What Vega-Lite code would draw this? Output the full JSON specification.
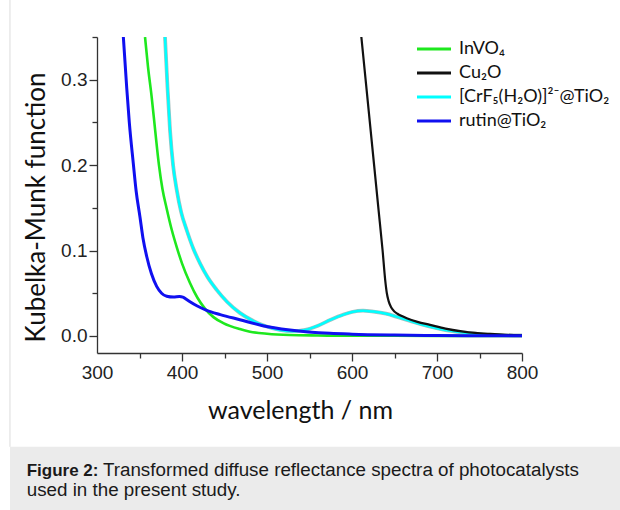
{
  "$schema": "https://vega.github.io/schema/vega-lite/v6.json",
  "width": 425,
  "height": 316,
  "autosize": {"type": "none"},
  "padding": {"left": 97, "top": 37, "right": 98, "bottom": 157},
  "background": "white",
  "config": {"view": {"stroke": null}},
  "datasets": {
    "spectra": [
      {"sample": "InVO₄", "wl": 356.5, "km": 0.35},
      {"sample": "InVO₄", "wl": 360, "km": 0.315},
      {"sample": "InVO₄", "wl": 364.3, "km": 0.28},
      {"sample": "InVO₄", "wl": 368.5, "km": 0.24},
      {"sample": "InVO₄", "wl": 372.9, "km": 0.2},
      {"sample": "InVO₄", "wl": 377, "km": 0.172},
      {"sample": "InVO₄", "wl": 382, "km": 0.149},
      {"sample": "InVO₄", "wl": 388, "km": 0.124},
      {"sample": "InVO₄", "wl": 393.8, "km": 0.104},
      {"sample": "InVO₄", "wl": 400, "km": 0.085},
      {"sample": "InVO₄", "wl": 409.4, "km": 0.062},
      {"sample": "InVO₄", "wl": 418, "km": 0.045},
      {"sample": "InVO₄", "wl": 427, "km": 0.032},
      {"sample": "InVO₄", "wl": 437, "km": 0.022},
      {"sample": "InVO₄", "wl": 448.6, "km": 0.015},
      {"sample": "InVO₄", "wl": 468, "km": 0.008},
      {"sample": "InVO₄", "wl": 480, "km": 0.005},
      {"sample": "InVO₄", "wl": 500, "km": 0.0025},
      {"sample": "InVO₄", "wl": 527, "km": 0.001},
      {"sample": "InVO₄", "wl": 560, "km": 0.0005},
      {"sample": "InVO₄", "wl": 600, "km": 0.0002},
      {"sample": "InVO₄", "wl": 700, "km": 0.0001},
      {"sample": "InVO₄", "wl": 800, "km": 0},
      {"sample": "Cu₂O", "wl": 611, "km": 0.35},
      {"sample": "Cu₂O", "wl": 621, "km": 0.25},
      {"sample": "Cu₂O", "wl": 631, "km": 0.15},
      {"sample": "Cu₂O", "wl": 636, "km": 0.1},
      {"sample": "Cu₂O", "wl": 639, "km": 0.066},
      {"sample": "Cu₂O", "wl": 641, "km": 0.05},
      {"sample": "Cu₂O", "wl": 643, "km": 0.041},
      {"sample": "Cu₂O", "wl": 646, "km": 0.0335},
      {"sample": "Cu₂O", "wl": 649.5, "km": 0.029},
      {"sample": "Cu₂O", "wl": 653.5, "km": 0.026},
      {"sample": "Cu₂O", "wl": 658, "km": 0.0235},
      {"sample": "Cu₂O", "wl": 664.4, "km": 0.0207},
      {"sample": "Cu₂O", "wl": 677, "km": 0.0165},
      {"sample": "Cu₂O", "wl": 691.8, "km": 0.0129},
      {"sample": "Cu₂O", "wl": 710, "km": 0.0085},
      {"sample": "Cu₂O", "wl": 731, "km": 0.005},
      {"sample": "Cu₂O", "wl": 745, "km": 0.0035},
      {"sample": "Cu₂O", "wl": 762, "km": 0.0023},
      {"sample": "Cu₂O", "wl": 780, "km": 0.0013},
      {"sample": "Cu₂O", "wl": 800, "km": 0.0008},
      {"sample": "[CrF₅(H₂O)]²⁻@TiO₂", "wl": 380, "km": 0.35},
      {"sample": "[CrF₅(H₂O)]²⁻@TiO₂", "wl": 383, "km": 0.29},
      {"sample": "[CrF₅(H₂O)]²⁻@TiO₂", "wl": 385.9, "km": 0.241},
      {"sample": "[CrF₅(H₂O)]²⁻@TiO₂", "wl": 389.5, "km": 0.2},
      {"sample": "[CrF₅(H₂O)]²⁻@TiO₂", "wl": 393.8, "km": 0.171},
      {"sample": "[CrF₅(H₂O)]²⁻@TiO₂", "wl": 399, "km": 0.145},
      {"sample": "[CrF₅(H₂O)]²⁻@TiO₂", "wl": 405.5, "km": 0.124},
      {"sample": "[CrF₅(H₂O)]²⁻@TiO₂", "wl": 413, "km": 0.103},
      {"sample": "[CrF₅(H₂O)]²⁻@TiO₂", "wl": 421.2, "km": 0.085},
      {"sample": "[CrF₅(H₂O)]²⁻@TiO₂", "wl": 430, "km": 0.069},
      {"sample": "[CrF₅(H₂O)]²⁻@TiO₂", "wl": 440.8, "km": 0.054},
      {"sample": "[CrF₅(H₂O)]²⁻@TiO₂", "wl": 453, "km": 0.04},
      {"sample": "[CrF₅(H₂O)]²⁻@TiO₂", "wl": 468, "km": 0.027},
      {"sample": "[CrF₅(H₂O)]²⁻@TiO₂", "wl": 483, "km": 0.018},
      {"sample": "[CrF₅(H₂O)]²⁻@TiO₂", "wl": 499.6, "km": 0.011},
      {"sample": "[CrF₅(H₂O)]²⁻@TiO₂", "wl": 515, "km": 0.007},
      {"sample": "[CrF₅(H₂O)]²⁻@TiO₂", "wl": 530, "km": 0.0055},
      {"sample": "[CrF₅(H₂O)]²⁻@TiO₂", "wl": 545, "km": 0.007},
      {"sample": "[CrF₅(H₂O)]²⁻@TiO₂", "wl": 560, "km": 0.012},
      {"sample": "[CrF₅(H₂O)]²⁻@TiO₂", "wl": 575, "km": 0.019},
      {"sample": "[CrF₅(H₂O)]²⁻@TiO₂", "wl": 590, "km": 0.025},
      {"sample": "[CrF₅(H₂O)]²⁻@TiO₂", "wl": 600, "km": 0.028},
      {"sample": "[CrF₅(H₂O)]²⁻@TiO₂", "wl": 613, "km": 0.0296},
      {"sample": "[CrF₅(H₂O)]²⁻@TiO₂", "wl": 625, "km": 0.0285},
      {"sample": "[CrF₅(H₂O)]²⁻@TiO₂", "wl": 640, "km": 0.026},
      {"sample": "[CrF₅(H₂O)]²⁻@TiO₂", "wl": 652, "km": 0.0226},
      {"sample": "[CrF₅(H₂O)]²⁻@TiO₂", "wl": 670, "km": 0.017},
      {"sample": "[CrF₅(H₂O)]²⁻@TiO₂", "wl": 691, "km": 0.011},
      {"sample": "[CrF₅(H₂O)]²⁻@TiO₂", "wl": 710, "km": 0.0068},
      {"sample": "[CrF₅(H₂O)]²⁻@TiO₂", "wl": 731, "km": 0.004},
      {"sample": "[CrF₅(H₂O)]²⁻@TiO₂", "wl": 750, "km": 0.0022},
      {"sample": "[CrF₅(H₂O)]²⁻@TiO₂", "wl": 770, "km": 0.0012},
      {"sample": "[CrF₅(H₂O)]²⁻@TiO₂", "wl": 800, "km": 0.0005},
      {"sample": "rutin@TiO₂", "wl": 331, "km": 0.35},
      {"sample": "rutin@TiO₂", "wl": 335, "km": 0.29},
      {"sample": "rutin@TiO₂", "wl": 338, "km": 0.25},
      {"sample": "rutin@TiO₂", "wl": 342.7, "km": 0.202},
      {"sample": "rutin@TiO₂", "wl": 346, "km": 0.17},
      {"sample": "rutin@TiO₂", "wl": 350.6, "km": 0.139},
      {"sample": "rutin@TiO₂", "wl": 354, "km": 0.115},
      {"sample": "rutin@TiO₂", "wl": 358.5, "km": 0.093},
      {"sample": "rutin@TiO₂", "wl": 364, "km": 0.073},
      {"sample": "rutin@TiO₂", "wl": 370.2, "km": 0.058},
      {"sample": "rutin@TiO₂", "wl": 376, "km": 0.05},
      {"sample": "rutin@TiO₂", "wl": 382, "km": 0.0465},
      {"sample": "rutin@TiO₂", "wl": 390, "km": 0.0455},
      {"sample": "rutin@TiO₂", "wl": 397, "km": 0.0462},
      {"sample": "rutin@TiO₂", "wl": 401, "km": 0.0455},
      {"sample": "rutin@TiO₂", "wl": 405, "km": 0.043},
      {"sample": "rutin@TiO₂", "wl": 409.4, "km": 0.04},
      {"sample": "rutin@TiO₂", "wl": 418, "km": 0.035},
      {"sample": "rutin@TiO₂", "wl": 429, "km": 0.03},
      {"sample": "rutin@TiO₂", "wl": 445, "km": 0.025},
      {"sample": "rutin@TiO₂", "wl": 468, "km": 0.019},
      {"sample": "rutin@TiO₂", "wl": 495, "km": 0.012},
      {"sample": "rutin@TiO₂", "wl": 527, "km": 0.007},
      {"sample": "rutin@TiO₂", "wl": 574, "km": 0.003},
      {"sample": "rutin@TiO₂", "wl": 600, "km": 0.002},
      {"sample": "rutin@TiO₂", "wl": 650, "km": 0.001},
      {"sample": "rutin@TiO₂", "wl": 700, "km": 0.0005},
      {"sample": "rutin@TiO₂", "wl": 800, "km": 0.0002}
    ]
  },
  "data": {"name": "spectra"},
  "layer": [
    {
      "transform": [{"filter": "datum.sample === 'InVO₄'"}],
      "mark": {"type": "line", "strokeWidth": 2.6, "interpolate": "monotone", "clip": true},
      "encoding": {
        "x": {
          "field": "wl", "type": "quantitative",
          "scale": {"domain": [300, 800], "nice": false, "zero": false},
          "axis": {
            "title": "wavelength / nm",
            "values": [300, 350, 400, 450, 500, 550, 600, 650, 700, 750, 800],
            "labelExpr": "datum.value % 100 == 0 ? datum.label : ''",
            "tickSize": {"condition": {"test": "datum.value % 100 != 0", "value": 5}, "value": 8},
            "tickOpacity": {"condition": {"test": "datum.value == 300", "value": 0}, "value": 1},
            "labelFont": "Liberation Sans", "labelFontSize": 19, "labelColor": "#222222",
            "labelPadding": 2,
            "labelFlush": false, "labelOverlap": false,
            "domainColor": "#333333", "tickColor": "#333333", "domainWidth": 1.3, "tickWidth": 1.3,
            "grid": false,
            "titleFont": "Lato", "titleFontSize": 25, "titleFontWeight": "normal", "titleColor": "#111111",
            "titleX": 203, "titleY": 57, "titleBaseline": "middle", "titleAlign": "center"
          }
        },
        "y": {
          "field": "km", "type": "quantitative",
          "scale": {"domain": [-0.02, 0.35], "nice": false, "zero": false},
          "axis": {
            "title": "Kubelka-Munk function",
            "values": [0, 0.05, 0.1, 0.15, 0.2, 0.25, 0.3, 0.35],
            "labelExpr": "round(datum.value * 100) % 10 == 0 ? format(datum.value, '.1f') : ''",
            "tickSize": {"condition": {"test": "round(datum.value * 100) % 10 != 0", "value": 5}, "value": 8},
            "labelFont": "Liberation Sans", "labelFontSize": 19, "labelColor": "#222222",
            "labelPadding": 2,
            "labelFlush": false, "labelOverlap": false,
            "domainColor": "#333333", "tickColor": "#333333", "domainWidth": 1.3, "tickWidth": 1.3,
            "grid": false,
            "titleFont": "Lato", "titleFontSize": 26, "titleFontWeight": "normal", "titleColor": "#111111",
            "titleX": -61, "titleY": 170, "titleBaseline": "middle", "titleAlign": "center", "titleAngle": -90
          }
        },
        "color": {
          "field": "sample", "type": "nominal",
          "scale": {
            "domain": ["InVO₄", "Cu₂O", "[CrF₅(H₂O)]²⁻@TiO₂", "rutin@TiO₂"],
            "range": ["#1ee81e", "#111111", "#00ffff", "#1010f0"]
          },
          "legend": {
            "title": null,
            "orient": "none", "legendX": 327, "legendY": 2,
            "symbolType": "M-2,0H2", "symbolSize": 289, "symbolStrokeWidth": 3,
            "labelFont": "Lato", "labelFontSize": 18, "labelColor": "#111111",
            "labelOffset": 15, "rowPadding": 5, "padding": 0
          }
        }
      }
    },
    {
      "transform": [{"filter": "datum.sample === '[CrF₅(H₂O)]²⁻@TiO₂'"}],
      "mark": {"type": "line", "strokeWidth": 3.8, "interpolate": "monotone", "clip": true, "stroke": "#8fb0b0", "opacity": 0.8},
      "encoding": {
        "x": {"field": "wl", "type": "quantitative"},
        "y": {"field": "km", "type": "quantitative"}
      }
    },
    {
      "transform": [{"filter": "datum.sample === '[CrF₅(H₂O)]²⁻@TiO₂'"}],
      "mark": {"type": "line", "strokeWidth": 2.5, "interpolate": "monotone", "clip": true},
      "encoding": {
        "x": {"field": "wl", "type": "quantitative"},
        "y": {"field": "km", "type": "quantitative"},
        "color": {"field": "sample", "type": "nominal"}
      }
    },
    {
      "transform": [{"filter": "datum.sample === 'Cu₂O'"}],
      "mark": {"type": "line", "strokeWidth": 2.2, "interpolate": "monotone", "clip": true},
      "encoding": {
        "x": {"field": "wl", "type": "quantitative"},
        "y": {"field": "km", "type": "quantitative"},
        "color": {"field": "sample", "type": "nominal"}
      }
    },
    {
      "transform": [{"filter": "datum.sample === 'rutin@TiO₂'"}],
      "mark": {"type": "line", "strokeWidth": 3, "interpolate": "monotone", "clip": true},
      "encoding": {
        "x": {"field": "wl", "type": "quantitative"},
        "y": {"field": "km", "type": "quantitative"},
        "color": {"field": "sample", "type": "nominal"}
      }
    },
    {
      "data": {"values": [{"part": "caption"}]},
      "mark": {"type": "rect", "fill": "#ebebeb"},
      "encoding": {
        "x": {"datum": 197.6, "type": "quantitative"},
        "x2": {"datum": 915.3},
        "y": {"datum": -0.1298, "type": "quantitative"},
        "y2": {"datum": -0.25}
      }
    },
    {
      "data": {"values": [{"part": "border"}]},
      "mark": {"type": "rule", "stroke": "#dcdcdc", "strokeWidth": 1},
      "encoding": {
        "x": {"datum": 197.6, "type": "quantitative"},
        "y": {"datum": 0.40, "type": "quantitative"},
        "y2": {"datum": -0.1298}
      }
    },
    {
      "data": {"values": [{"t": "Figure 2:"}]},
      "mark": {"type": "text", "font": "Liberation Sans", "fontSize": 17, "fontWeight": "bold", "align": "left", "baseline": "alphabetic", "color": "#1a1a1a"},
      "encoding": {
        "x": {"datum": 217.3, "type": "quantitative"},
        "y": {"datum": -0.1636, "type": "quantitative"},
        "text": {"field": "t"}
      }
    },
    {
      "data": {"values": [{"t": "Transformed diffuse reflectance spectra of photocatalysts"}]},
      "mark": {"type": "text", "font": "Liberation Sans", "fontSize": 18.8, "align": "left", "baseline": "alphabetic", "color": "#1a1a1a"},
      "encoding": {
        "x": {"datum": 307, "type": "quantitative"},
        "y": {"datum": -0.1636, "type": "quantitative"},
        "text": {"field": "t"}
      }
    },
    {
      "data": {"values": [{"t": "used in the present study."}]},
      "mark": {"type": "text", "font": "Liberation Sans", "fontSize": 18.8, "align": "left", "baseline": "alphabetic", "color": "#1a1a1a"},
      "encoding": {
        "x": {"datum": 217.3, "type": "quantitative"},
        "y": {"datum": -0.1872, "type": "quantitative"},
        "text": {"field": "t"}
      }
    }
  ]
}
